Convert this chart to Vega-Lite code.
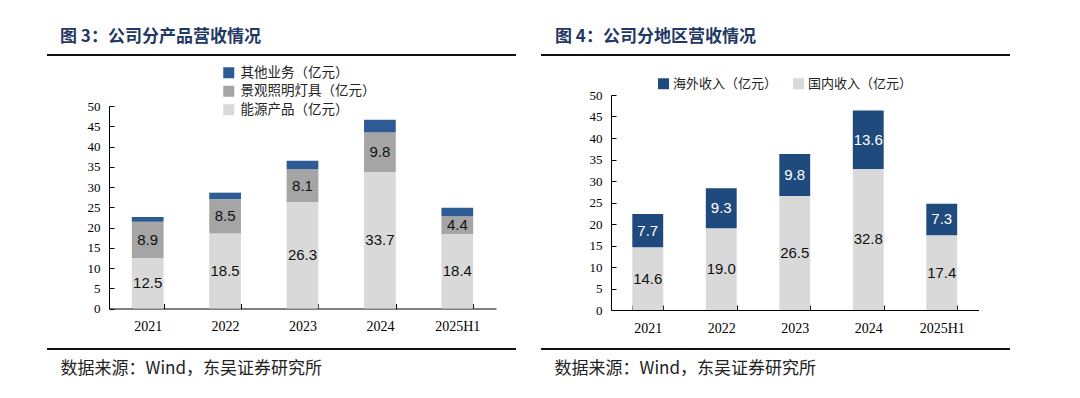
{
  "$schema": "https://vega.github.io/schema/vega-lite/v6.json",
  "background": "white",
  "padding": {"left": 46, "top": 27, "right": 0, "bottom": 0},
  "spacing": 23,
  "resolve": {"scale": {"color": "independent"}, "legend": {"color": "independent"}},
  "config": {
    "view": {"stroke": "#111", "strokeWidth": 2, "strokeDash": [469, 294]},
    "font": "Noto Sans CJK SC"
  },
  "hconcat": [
    {
      "width": 469,
      "height": 294,
      "title": {"text": "图 3：公司分产品营收情况", "anchor": "start", "frame": "group", "dx": 13, "offset": 9, "fontSize": 17, "fontWeight": "bold", "color": "#1f3864", "font": "Noto Sans CJK SC"},
      "data": {"values": [
        {"year": "2021", "series": "能源产品（亿元）", "value": 12.5},
        {"year": "2021", "series": "景观照明灯具（亿元）", "value": 8.9},
        {"year": "2021", "series": "其他业务（亿元）", "value": 1.2},
        {"year": "2022", "series": "能源产品（亿元）", "value": 18.5},
        {"year": "2022", "series": "景观照明灯具（亿元）", "value": 8.5},
        {"year": "2022", "series": "其他业务（亿元）", "value": 1.6},
        {"year": "2023", "series": "能源产品（亿元）", "value": 26.3},
        {"year": "2023", "series": "景观照明灯具（亿元）", "value": 8.1},
        {"year": "2023", "series": "其他业务（亿元）", "value": 2.1},
        {"year": "2024", "series": "能源产品（亿元）", "value": 33.7},
        {"year": "2024", "series": "景观照明灯具（亿元）", "value": 9.8},
        {"year": "2024", "series": "其他业务（亿元）", "value": 3.1},
        {"year": "2025H1", "series": "能源产品（亿元）", "value": 18.4},
        {"year": "2025H1", "series": "景观照明灯具（亿元）", "value": 4.4},
        {"year": "2025H1", "series": "其他业务（亿元）", "value": 2.1}
      ]},
      "encoding": {
        "x": {
          "field": "year", "type": "nominal", "sort": null,
          "scale": {"range": [62, 449], "paddingInner": 0.59, "paddingOuter": 0.295},
          "axis": {
            "orient": "bottom", "offset": -40.5, "tickBand": "extent", "tickSize": -5,
            "labelPadding": 16, "labelAngle": 0, "domainColor": "#000", "tickColor": "#000",
            "labelFont": "Liberation Serif", "labelFontSize": 14, "labelColor": "#000",
            "title": "数据来源：Wind，东吴证券研究所", "titleFont": "Noto Sans CJK SC", "titleFontSize": 17,
            "titleFontWeight": "normal", "titleColor": "#222", "titleX": 13, "titleY": 60,
            "titleAlign": "left", "titleAnchor": "start", "titleBaseline": "middle"
          }
        },
        "y": {
          "field": "value", "type": "quantitative", "stack": "zero",
          "scale": {"domain": [0, 50], "range": [253.5, 51], "nice": false},
          "axis": {
            "values": [0, 5, 10, 15, 20, 25, 30, 35, 40, 45, 50], "offset": -62, "tickSize": -5,
            "labelPadding": 14, "grid": false, "title": null, "domainColor": "#000", "tickColor": "#000",
            "labelFont": "Liberation Serif", "labelFontSize": 13, "labelColor": "#000"
          }
        },
        "order": {"field": "series", "sort": "descending"}
      },
      "layer": [
        {
          "mark": {"type": "bar"},
          "encoding": {
            "color": {
              "field": "series", "type": "nominal",
              "scale": {"domain": ["其他业务（亿元）", "景观照明灯具（亿元）", "能源产品（亿元）"], "range": ["#2f5b94", "#a5a5a5", "#d9d9d9"]},
              "legend": {
                "orient": "none", "legendX": 175, "legendY": 11, "title": null, "direction": "vertical",
                "symbolType": "square", "symbolSize": 121, "symbolStrokeWidth": 0,
                "labelFont": "Noto Sans CJK SC", "labelFontSize": 13.5, "labelColor": "#222",
                "labelOffset": 5, "rowPadding": 3.5, "padding": 0
              }
            }
          }
        },
        {
          "transform": [{"filter": "datum.series !== '其他业务（亿元）'"}],
          "mark": {"type": "text", "font": "Liberation Sans", "fontSize": 15, "color": "#111"},
          "encoding": {
            "y": {"field": "value", "type": "quantitative", "stack": "zero", "bandPosition": 0.5},
            "text": {"field": "value", "type": "quantitative", "format": ".1f"}
          }
        }
      ]
    },
    {
      "width": 469,
      "height": 294,
      "title": {"text": "图 4：公司分地区营收情况", "anchor": "start", "frame": "group", "dx": 14, "offset": 9, "fontSize": 17, "fontWeight": "bold", "color": "#1f3864", "font": "Noto Sans CJK SC"},
      "data": {"values": [
        {"year": "2021", "series": "国内收入（亿元）", "value": 14.6},
        {"year": "2021", "series": "海外收入（亿元）", "value": 7.7},
        {"year": "2022", "series": "国内收入（亿元）", "value": 19.0},
        {"year": "2022", "series": "海外收入（亿元）", "value": 9.3},
        {"year": "2023", "series": "国内收入（亿元）", "value": 26.5},
        {"year": "2023", "series": "海外收入（亿元）", "value": 9.8},
        {"year": "2024", "series": "国内收入（亿元）", "value": 32.8},
        {"year": "2024", "series": "海外收入（亿元）", "value": 13.6},
        {"year": "2025H1", "series": "国内收入（亿元）", "value": 17.4},
        {"year": "2025H1", "series": "海外收入（亿元）", "value": 7.3}
      ]},
      "encoding": {
        "x": {
          "field": "year", "type": "nominal", "sort": null,
          "scale": {"range": [70, 437.5], "paddingInner": 0.58, "paddingOuter": 0.29},
          "axis": {
            "orient": "bottom", "offset": -39, "tickBand": "extent", "tickSize": -5,
            "labelPadding": 16, "labelAngle": 0, "domainColor": "#000", "tickColor": "#000",
            "labelFont": "Liberation Serif", "labelFontSize": 14, "labelColor": "#000",
            "title": "数据来源：Wind，东吴证券研究所", "titleFont": "Noto Sans CJK SC", "titleFontSize": 17,
            "titleFontWeight": "normal", "titleColor": "#222", "titleX": 13, "titleY": 58,
            "titleAlign": "left", "titleAnchor": "start", "titleBaseline": "middle"
          }
        },
        "y": {
          "field": "value", "type": "quantitative", "stack": "zero",
          "scale": {"domain": [0, 50], "range": [255, 40], "nice": false},
          "axis": {
            "values": [0, 5, 10, 15, 20, 25, 30, 35, 40, 45, 50], "offset": -70, "tickSize": -5,
            "labelPadding": 14, "grid": false, "title": null, "domainColor": "#000", "tickColor": "#000",
            "labelFont": "Liberation Serif", "labelFontSize": 13, "labelColor": "#000"
          }
        },
        "order": {"field": "series", "sort": "ascending"}
      },
      "layer": [
        {
          "mark": {"type": "bar"},
          "encoding": {
            "color": {
              "field": "series", "type": "nominal",
              "scale": {"domain": ["海外收入（亿元）", "国内收入（亿元）"], "range": ["#1f4a7e", "#d9d9d9"]},
              "legend": {
                "orient": "none", "legendX": 116, "legendY": 22, "title": null, "direction": "horizontal",
                "symbolType": "square", "symbolSize": 121, "symbolStrokeWidth": 0,
                "labelFont": "Noto Sans CJK SC", "labelFontSize": 13, "labelColor": "#222",
                "labelOffset": 3, "columnPadding": 14, "padding": 0
              }
            }
          }
        },
        {
          "mark": {"type": "text", "font": "Liberation Sans", "fontSize": 15},
          "encoding": {
            "y": {"field": "value", "type": "quantitative", "stack": "zero", "bandPosition": 0.5},
            "text": {"field": "value", "type": "quantitative", "format": ".1f"},
            "color": {"condition": {"test": "datum.series === '海外收入（亿元）'", "value": "#ffffff"}, "value": "#111111"}
          }
        }
      ]
    }
  ]
}
